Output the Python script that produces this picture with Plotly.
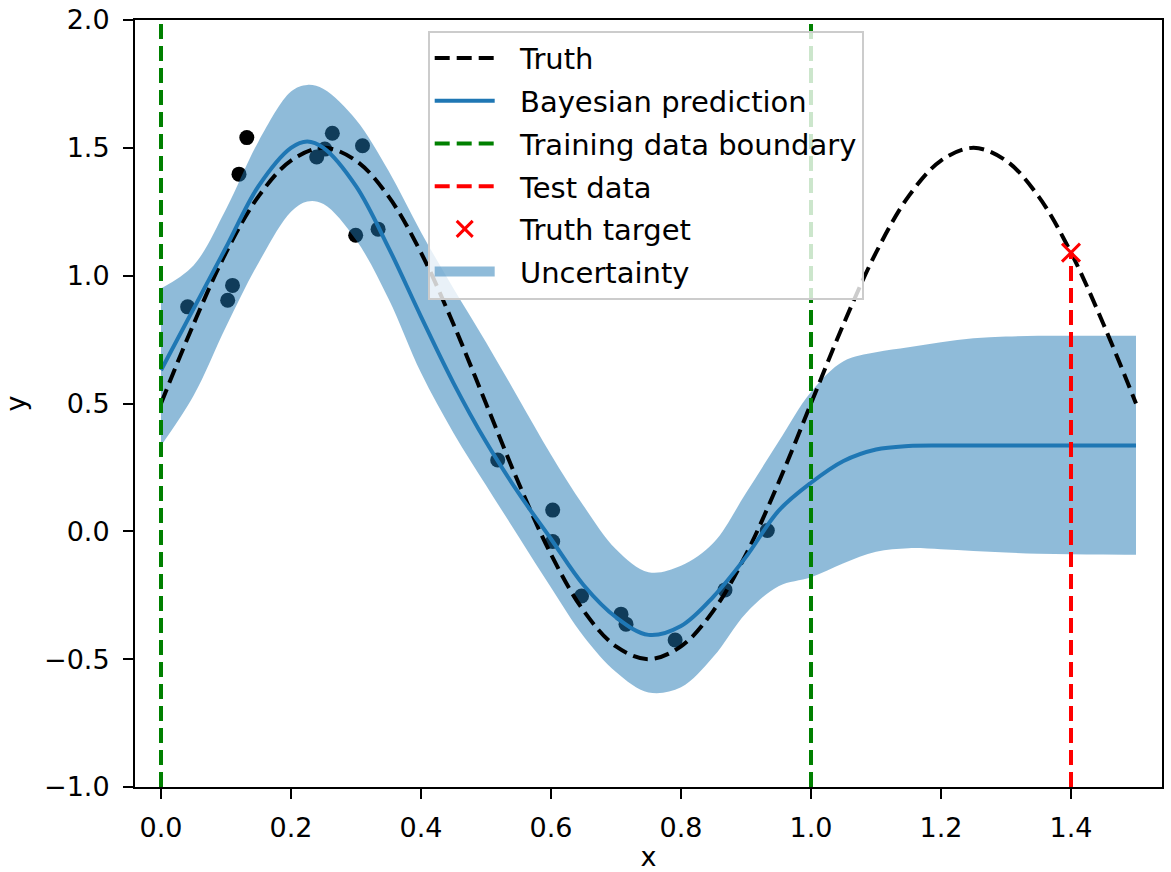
import plotly.graph_objects as go

# ---------------- data ----------------
truth_x = [0.00, 0.05, 0.10, 0.15, 0.20, 0.25, 0.30, 0.35, 0.40, 0.45, 0.50,
           0.55, 0.60, 0.65, 0.70, 0.75, 0.80, 0.85, 0.90, 0.95, 1.00,
           1.05, 1.10, 1.15, 1.20, 1.25, 1.30, 1.35, 1.40, 1.45, 1.50]
truth_y = [0.50, 0.81, 1.09, 1.31, 1.45, 1.50, 1.45, 1.31, 1.09, 0.81, 0.50,
           0.19, -0.09, -0.31, -0.45, -0.50, -0.45, -0.31, -0.09, 0.19, 0.50,
           0.81, 1.09, 1.31, 1.45, 1.50, 1.45, 1.31, 1.09, 0.81, 0.50]

pred_x = [0.00, 0.05, 0.10, 0.15, 0.20, 0.225, 0.25, 0.30, 0.35, 0.40, 0.45, 0.50,
          0.55, 0.60, 0.65, 0.70, 0.75, 0.80, 0.85, 0.90, 0.95, 1.00,
          1.05, 1.10, 1.15, 1.20, 1.25, 1.30, 1.35, 1.40, 1.45, 1.50]
pred_mean = [0.63, 0.87, 1.11, 1.35, 1.50, 1.525, 1.50, 1.35, 1.11, 0.84, 0.58, 0.35,
             0.15, -0.03, -0.21, -0.336, -0.405, -0.37, -0.255, -0.10, 0.08, 0.19,
             0.275, 0.32, 0.334, 0.336, 0.336, 0.336, 0.336, 0.336, 0.336, 0.336]
pred_upper = [0.95, 1.04, 1.26, 1.525, 1.72, 1.746, 1.73, 1.61, 1.41, 1.17, 0.95, 0.74,
              0.52, 0.30, 0.10, -0.07, -0.16, -0.135, -0.045, 0.15, 0.35, 0.545,
              0.665, 0.70, 0.72, 0.74, 0.755, 0.762, 0.765, 0.765, 0.765, 0.765]
pred_lower = [0.335, 0.53, 0.80, 1.05, 1.25, 1.29, 1.28, 1.14, 0.91, 0.62, 0.385, 0.18,
              -0.02, -0.22, -0.41, -0.55, -0.63, -0.61, -0.49, -0.32, -0.215, -0.18,
              -0.125, -0.08, -0.066, -0.07, -0.077, -0.083, -0.088, -0.09, -0.091, -0.092]

obs_x = [0.041, 0.1026, 0.110, 0.120, 0.132, 0.2395, 0.252, 0.2636, 0.2995, 0.310,
         0.334, 0.518, 0.6026, 0.6026, 0.647, 0.7077, 0.7154, 0.791, 0.8677, 0.9328]
obs_y = [0.878, 0.904, 0.962, 1.397, 1.540, 1.464, 1.495, 1.557, 1.158, 1.508,
         1.182, 0.279, 0.083, -0.040, -0.253, -0.324, -0.363, -0.425, -0.229, 0.003]

boundary_x = [0.0, 1.0]
test_x = 1.4
test_target = 1.09

x_ticks = [0.0, 0.2, 0.4, 0.6, 0.8, 1.0, 1.2, 1.4]
y_ticks = [-1.0, -0.5, 0.0, 0.5, 1.0, 1.5, 2.0]
y_min, y_max = -1.0, 2.0

# ---------------- styles ----------------
FONT = "DejaVu Sans"
BLUE = "#1f77b4"
BAND = "rgba(31,119,180,0.5)"
DASH = "15px,7px"
LW = 4
PAD = "\u2002\u2009"  # gap between legend handle and label


def lab(s):
    return PAD + s


fig = go.Figure()

# observations (drawn first so the band covers them)
fig.add_trace(go.Scatter(x=obs_x, y=obs_y, mode="markers",
                         marker=dict(color="black", size=15, line=dict(width=0)),
                         showlegend=False, hoverinfo="skip"))

# uncertainty band
fig.add_trace(go.Scatter(x=pred_x, y=pred_lower, mode="lines",
                         line=dict(width=0, shape="spline", color=BLUE),
                         showlegend=False, hoverinfo="skip"))
fig.add_trace(go.Scatter(x=pred_x, y=pred_upper, mode="lines", fill="tonexty",
                         fillcolor=BAND,
                         line=dict(width=0, shape="spline", color=BLUE),
                         showlegend=False, hoverinfo="skip"))

# truth
fig.add_trace(go.Scatter(x=truth_x, y=truth_y, mode="lines",
                         line=dict(color="black", width=LW, dash=DASH, shape="spline"),
                         name=lab("Truth"), legendgroup="g1"))
# prediction mean
fig.add_trace(go.Scatter(x=pred_x, y=pred_mean, mode="lines",
                         line=dict(color=BLUE, width=LW, shape="spline"),
                         name=lab("Bayesian prediction"), legendgroup="g2"))
# training boundaries
bx, by = [], []
for b in boundary_x:
    bx += [b, b, None]
    by += [y_min, y_max, None]
fig.add_trace(go.Scatter(x=bx, y=by, mode="lines",
                         line=dict(color="#008000", width=LW, dash=DASH),
                         name=lab("Training data boundary"), legendgroup="g3"))
# test data line
fig.add_trace(go.Scatter(x=[test_x, test_x], y=[y_min, test_target], mode="lines",
                         line=dict(color="#ff0000", width=LW, dash=DASH),
                         name=lab("Test data"), legendgroup="g4"))
# truth target
fig.add_trace(go.Scatter(x=[test_x], y=[test_target], mode="markers",
                         marker=dict(symbol="x-thin", size=18, color="#ff0000",
                                     line=dict(color="#ff0000", width=3)),
                         name=lab("Truth target"), legendgroup="g5"))
# legend handle for the band
fig.add_trace(go.Scatter(x=[None], y=[None], mode="lines",
                         line=dict(width=20, color=BAND),
                         name=lab("Uncertainty"), legendgroup="g6"))

axis_common = dict(showline=True, linewidth=2, linecolor="black", mirror=True,
                   ticks="outside", ticklen=10, tickwidth=2, tickcolor="black",
                   showgrid=False, zeroline=False,
                   tickfont=dict(family=FONT, size=27, color="black"))

fig.update_xaxes(range=[-0.04, 1.54], tickvals=x_ticks,
                 ticktext=[f"{v:.1f}" for v in x_ticks],
                 title=dict(text="x", font=dict(family=FONT, size=27, color="black"), standoff=18),
                 ticklabelstandoff=6, **axis_common)
fig.update_yaxes(range=[y_min, y_max], tickvals=y_ticks,
                 ticktext=[f"{v:.1f}".replace("-", "\u2212") for v in y_ticks],
                 title=dict(text="y", font=dict(family=FONT, size=27, color="black"), standoff=14),
                 ticklabelstandoff=8, **axis_common)

fig.update_layout(
    width=1171, height=872,
    margin=dict(l=135, r=9, t=20, b=85, autoexpand=False),
    plot_bgcolor="white", paper_bgcolor="white",
    font=dict(family=FONT, color="black"),
    legend=dict(x=0.285, y=0.986, xanchor="left", yanchor="top",
                bgcolor="rgba(255,255,255,0.8)", bordercolor="#cccccc", borderwidth=2,
                font=dict(family=FONT, size=29, color="black"),
                tracegroupgap=2, itemwidth=60, traceorder="grouped"),
)

fig.write_html("out.html")
